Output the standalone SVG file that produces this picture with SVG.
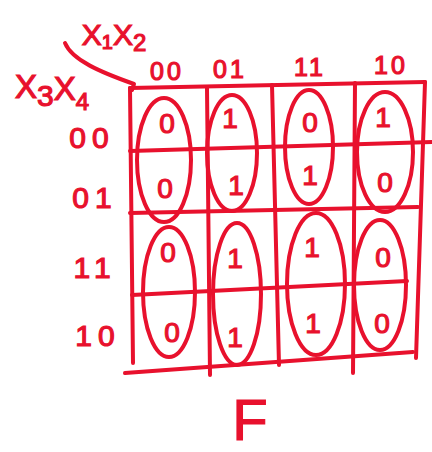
<svg xmlns="http://www.w3.org/2000/svg" width="432" height="452" viewBox="0 0 432 452">
<style>
.ln{fill:none;stroke:#e8112d;stroke-width:4;stroke-linecap:round;stroke-linejoin:round}
.t{fill:#e8112d;stroke:#e8112d;stroke-width:1.2;font-family:"Liberation Sans",Arial,sans-serif;text-anchor:middle}
.d{font-size:28px}
.ch{font-size:25px;letter-spacing:3px}
.rh{font-size:30px;letter-spacing:6px}
</style>
<rect width="432" height="452" fill="#ffffff"/>
<g id="axis-labels">
  <text class="t" x="114" y="45" font-size="30">X<tspan font-size="20" dy="4">1</tspan><tspan dy="-4">X</tspan><tspan font-size="24" dy="6">2</tspan></text>
  <path class="ln" d="M65,43 C72,60 100,72 134,84 L132,90"/>
  <text class="t" x="52" y="98" font-size="33">X<tspan font-size="30" dy="8">3</tspan><tspan dy="-6">X</tspan><tspan font-size="24" dy="10">4</tspan></text>
</g>
<g id="col-headers">
  <text class="t ch" x="167" y="80">00</text>
  <text class="t ch" x="230" y="78">01</text>
  <text class="t ch" x="310" y="76">11</text>
  <text class="t ch" x="391" y="74">10</text>
</g>
<g id="row-headers">
  <text class="t rh" x="92" y="148">00</text>
  <text class="t rh" x="95" y="208">01</text>
  <text class="t rh" x="95" y="278">11</text>
  <text class="t rh" x="98" y="346">10</text>
</g>
<g id="grid">
  <path class="ln" d="M130,88 L425,82"/>
  <path class="ln" d="M130,88 L133,363"/>
  <path class="ln" d="M207,88 L210,375"/>
  <path class="ln" d="M272,85 L279,365"/>
  <path class="ln" d="M355,83 L353,373"/>
  <path class="ln" d="M425,82 L416,358"/>
  <path class="ln" d="M130,151 L432,142"/>
  <path class="ln" d="M130,213 L418,207"/>
  <path class="ln" d="M132,295 L407,281"/>
  <path class="ln" d="M125,373 L413,352"/>
</g>
<g id="groupings">
  <ellipse class="ln" cx="164" cy="160" rx="27" ry="62"/>
  <ellipse class="ln" cx="232" cy="153" rx="25" ry="58"/>
  <ellipse class="ln" cx="309" cy="147" rx="24" ry="57"/>
  <ellipse class="ln" cx="385" cy="152" rx="28" ry="60"/>
  <ellipse class="ln" cx="169" cy="292" rx="26" ry="65"/>
  <ellipse class="ln" cx="237" cy="294" rx="24" ry="71"/>
  <ellipse class="ln" cx="316" cy="284" rx="29" ry="71"/>
  <ellipse class="ln" cx="380" cy="285" rx="26" ry="65"/>
</g>
<g id="cells">
  <g id="r00"><text class="t d" x="167" y="133">0</text><text class="t d" x="230" y="128">1</text><text class="t d" x="310" y="132">0</text><text class="t d" x="383" y="127">1</text></g>
  <g id="r01"><text class="t d" x="165" y="198">0</text><text class="t d" x="236" y="195">1</text><text class="t d" x="310" y="185">1</text><text class="t d" x="385" y="192">0</text></g>
  <g id="r11"><text class="t d" x="168" y="262">0</text><text class="t d" x="235" y="268">1</text><text class="t d" x="312" y="257">1</text><text class="t d" x="383" y="267">0</text></g>
  <g id="r10"><text class="t d" x="172" y="342">0</text><text class="t d" x="235" y="347">1</text><text class="t d" x="313" y="333">1</text><text class="t d" x="382" y="333">0</text></g>
</g>
<g id="function-label">
  <text class="t" x="250" y="440" font-size="58">F</text>
</g>
</svg>
